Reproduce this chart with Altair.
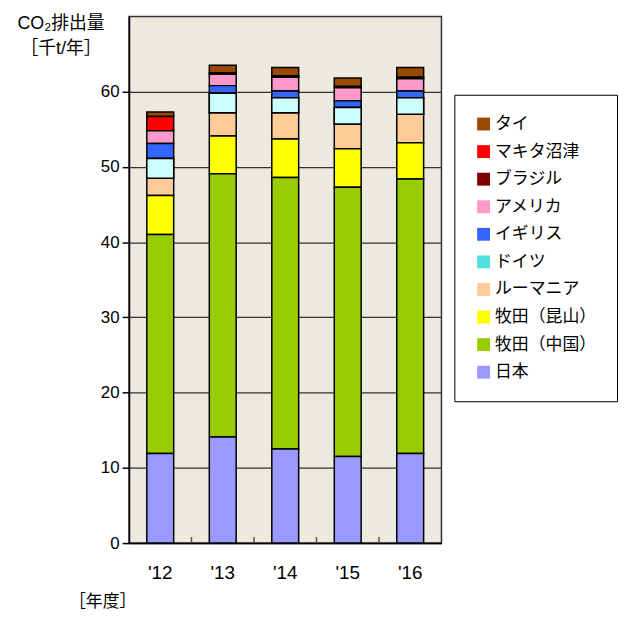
import altair as alt
import pandas as pd

years = ["'12", "'13", "'14", "'15", "'16"]

# legend order (top to bottom); stacking order is the reverse (日本 at bottom)
companies = ["タイ", "マキタ沼津", "ブラジル", "アメリカ", "イギリス", "ドイツ",
             "ルーマニア", "牧田（昆山）", "牧田（中国）", "日本"]
legend_colors = ["#9A4A00", "#FF0000", "#7F0000", "#FF99CC", "#3366FF", "#4FE0E0",
                 "#FFCC99", "#FFFF00", "#99CC00", "#9999FF"]

thai = [0.6, 1.0, 1.1, 1.1, 1.3]
numazu = [1.9, 0.0, 0.0, 0.0, 0.0]
brazil = [0.0, 0.2, 0.2, 0.2, 0.2]
usa = [1.7, 1.5, 1.8, 1.7, 1.6]
uk = [2.0, 1.0, 0.9, 0.9, 0.9]
germany = [2.6, 2.6, 2.0, 2.2, 2.2]
romania = [2.3, 3.1, 3.5, 3.3, 3.8]
kunshan = [5.2, 5.0, 5.1, 5.1, 4.8]
china = [29.1, 35.0, 36.1, 35.8, 36.5]
japan = [11.9, 14.1, 12.5, 11.5, 11.9]

series = [thai, numazu, brazil, usa, uk, germany, romania, kunshan, china, japan]

# category boundaries where small ticks are drawn on the x axis
boundary_years = years[1:]
tick_len = [0.8]

rows = []
for ci, (name, vals) in enumerate(zip(companies, series)):
    for y, v in zip(years, vals):
        if v > 0:
            rows.append({"year": y, "company": name, "value": v,
                         "order": len(companies) - 1 - ci})
df = pd.DataFrame(rows)
tick_df = pd.DataFrame({"year": boundary_years, "lo": [0.0] * len(boundary_years),
                        "hi": tick_len * len(boundary_years)})

FONT = "Liberation Sans, Arial, Noto Sans CJK JP, sans-serif"
JFONT = "Noto Sans CJK JP, sans-serif"

PLOT_W, PLOT_H = 315, 531

base = alt.Chart(df).transform_stack(
    stack="value", groupby=["year"], as_=["v0", "v1"],
    sort=[alt.SortField("order", order="ascending")]
)

xscale = alt.Scale(domain=years, paddingInner=0.57, paddingOuter=0.285)
yscale = alt.Scale(domain=[0, 70], nice=False)

bars = base.mark_bar(stroke="black", strokeWidth=1.5).encode(
    x=alt.X("year:N", scale=xscale, sort=years,
            axis=alt.Axis(title="［年度］", titleAngle=0, titleAlign="center",
                          titleBaseline="middle", titleX=-27, titleY=59,
                          titleFontSize=17, titleFontWeight="normal", titleFont=JFONT,
                          labelAngle=0, labelFontSize=19, labelFont=FONT,
                          labelPadding=21, tickSize=0, domainColor="black",
                          domainWidth=1.5, grid=False, orient="bottom")),
    y=alt.Y("v0:Q", scale=yscale,
            axis=alt.Axis(title=["CO₂排出量", "［千t/年］"], titleAngle=0,
                          titleAlign="center", titleBaseline="top",
                          titleX=-69, titleY=-2, titleFontSize=18,
                          titleFontWeight="normal", titleFont=FONT, titleLineHeight=25,
                          values=[0, 10, 20, 30, 40, 50, 60],
                          labelFontSize=17, labelFont=FONT, labelPadding=3,
                          tickSize=7, tickColor="black", tickWidth=1.5,
                          domainColor="black", domainWidth=1.5,
                          grid=True, gridColor="#333333", gridWidth=1.2)),
    y2="v1:Q",
    color=alt.Color("company:N",
                    scale=alt.Scale(domain=companies, range=legend_colors),
                    legend=alt.Legend(orient="none", legendX=328, legendY=79,
                                      title=None,
                                      symbolType="square", symbolSize=169,
                                      symbolStrokeWidth=0, symbolOpacity=1,
                                      labelFontSize=17, labelFont=JFONT,
                                      labelOffset=3, rowPadding=9.8, padding=21,
                                      strokeColor="black", fillColor="white")),
)

germany_overlay = base.transform_filter(
    alt.datum.company == "ドイツ"
).mark_bar(stroke="black", strokeWidth=1.5, fill="#CCFFFF").encode(
    x=alt.X("year:N", scale=xscale, sort=years, axis=None),
    y=alt.Y("v0:Q", scale=yscale),
    y2="v1:Q",
)

ticks = alt.Chart(tick_df).mark_rule(color="#555555", strokeWidth=1.5).encode(
    x=alt.X("year:N", bandPosition=0, axis=None,
            scale=alt.Scale(domain=years, paddingInner=0, paddingOuter=0)),
    y=alt.Y("lo:Q", scale=yscale),
    y2="hi:Q",
)

chart = alt.layer(bars, germany_overlay, ticks).resolve_scale(x="independent").properties(
    width=PLOT_W, height=PLOT_H,
    autosize=alt.AutoSizeParams(type="none"),
    padding={"left": 122, "top": 6, "right": 178, "bottom": 66},
    background="white",
).configure_view(fill="#ECE9DF", stroke="#333333", strokeWidth=1.5)

chart.save("out.html", embed_options={"renderer": "svg", "actions": False})
